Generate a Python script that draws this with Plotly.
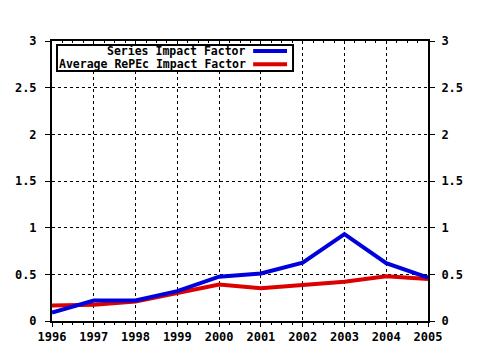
import plotly.graph_objects as go

years = [1996, 1997, 1998, 1999, 2000, 2001, 2002, 2003, 2004, 2005]
series_if = [0.09, 0.22, 0.22, 0.32, 0.475, 0.51, 0.625, 0.93, 0.62, 0.465]
average_if = [0.165, 0.175, 0.21, 0.30, 0.39, 0.35, 0.39, 0.42, 0.48, 0.45]
names = ["Series Impact Factor", "Average RePEc Impact Factor"]
colors = ["#0000dd", "#dd0000"]
yticks = [0, 0.5, 1, 1.5, 2, 2.5, 3]
ytext = ["0", "0.5", "1", "1.5", "2", "2.5", "3"]

TF = dict(family="DejaVu Sans Mono", size=12, color="black", weight="bold")

fig = go.Figure()
fig.add_trace(go.Scatter(x=years, y=average_if, mode="lines", name=names[1],
                         line=dict(color=colors[1], width=4)))
fig.add_trace(go.Scatter(x=years, y=series_if, mode="lines", name=names[0],
                         line=dict(color=colors[0], width=4)))
fig.add_trace(go.Scatter(x=[years[0]], y=[0], yaxis="y2", xaxis="x2",
                         mode="markers", marker=dict(opacity=0), showlegend=False, hoverinfo="skip"))

fig.update_layout(
    template="none",
    width=480, height=350,
    margin=dict(l=52, r=52, t=41, b=29, pad=0),
    paper_bgcolor="white", plot_bgcolor="white",
    showlegend=False,
    xaxis=dict(range=[1996, 2005], tickmode="array", tickvals=years,
               ticktext=[str(y) for y in years], automargin=False,
               showgrid=True, gridcolor="black", gridwidth=1, griddash="dot",
               showline=True, linecolor="black", linewidth=2,
               ticks="outside", ticklen=4, tickcolor="black", tickwidth=1,
               minor=dict(dtick=0.25, ticks="outside", ticklen=2, tickcolor="black", showgrid=False),
               tickfont=TF, zeroline=False),
    xaxis2=dict(range=[1996, 2005], overlaying="x", side="top", tickmode="array",
                tickvals=years, showticklabels=False, showgrid=False, automargin=False,
                showline=True, linecolor="black", linewidth=2,
                ticks="inside", ticklen=3, tickcolor="black",
                minor=dict(dtick=0.25, ticks="inside", ticklen=2, tickcolor="black", showgrid=False),
                zeroline=False),
    yaxis=dict(range=[0, 3], tickmode="array", tickvals=yticks, ticktext=ytext, automargin=False,
               showgrid=True, gridcolor="black", gridwidth=1, griddash="dot",
               showline=True, linecolor="black", linewidth=2,
               ticks="outside", ticklen=5, tickcolor="black",
               tickfont=TF, zeroline=False, ticklabelstandoff=6),
    yaxis2=dict(range=[0, 3], overlaying="y", side="right", tickmode="array", automargin=False,
                tickvals=yticks, ticktext=ytext, showgrid=False,
                showline=True, linecolor="black", linewidth=2,
                ticks="outside", ticklen=5, tickcolor="black",
                tickfont=TF, zeroline=False, ticklabelstandoff=4),
)

# custom legend (text right aligned, line sample to the right)
fig.add_shape(type="rect", xref="paper", yref="paper", x0=0.0133, x1=0.641, y0=0.893, y1=0.986,
              line=dict(color="black", width=2), fillcolor="white", layer="above")
rows_y = [0.964, 0.917]
for nm, col, yy in zip(names, colors, rows_y):
    fig.add_annotation(xref="paper", yref="paper", x=0.518, y=yy, text=nm, showarrow=False,
                       xanchor="right", yanchor="middle", borderpad=0,
                       font=dict(family="DejaVu Sans Mono", size=11.5, color="black", weight="bold"))
    fig.add_shape(type="line", xref="paper", yref="paper", x0=0.535, x1=0.625, y0=yy, y1=yy,
                  line=dict(color=col, width=4), layer="above")

fig.write_html("out.html")
